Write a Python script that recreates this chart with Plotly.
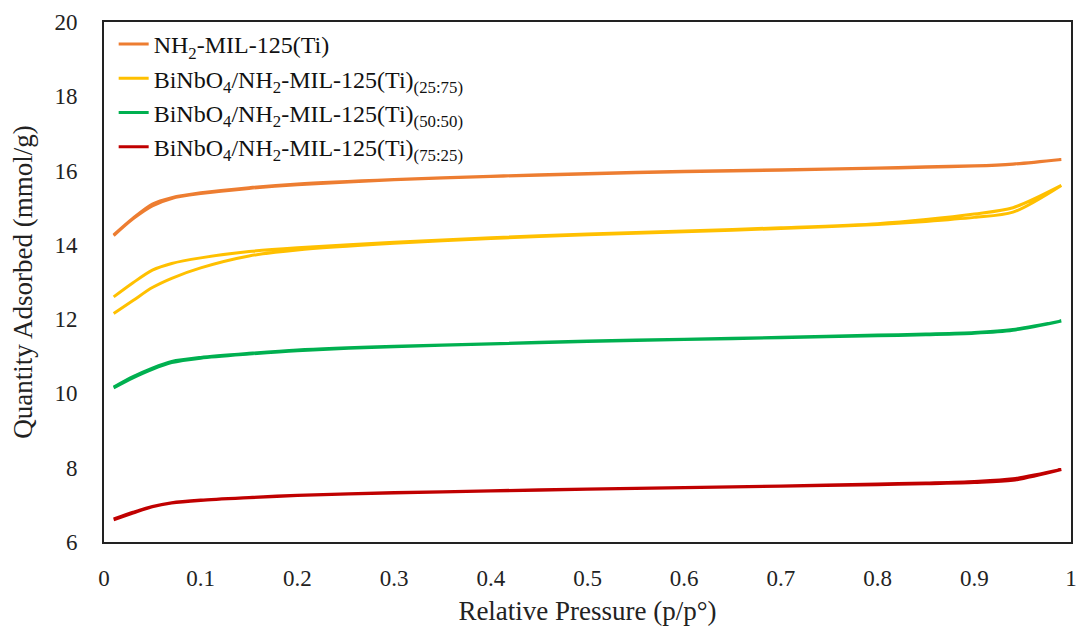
import plotly.graph_objects as go

# Relative pressure points
p_ads = [0.01, 0.03, 0.05, 0.07, 0.1, 0.15, 0.2, 0.3, 0.4, 0.5, 0.6, 0.7, 0.8, 0.85, 0.9, 0.94, 0.99]
p_des = [0.99, 0.94, 0.9, 0.85, 0.8, 0.7, 0.6, 0.5, 0.4, 0.3, 0.2, 0.15, 0.1, 0.07, 0.05, 0.03, 0.01]

names = [
    "NH<sub>2</sub>-MIL-125(Ti)",
    "BiNbO<sub>4</sub>/NH<sub>2</sub>-MIL-125(Ti)<sub>(25:75)</sub>",
    "BiNbO<sub>4</sub>/NH<sub>2</sub>-MIL-125(Ti)<sub>(50:50)</sub>",
    "BiNbO<sub>4</sub>/NH<sub>2</sub>-MIL-125(Ti)<sub>(75:25)</sub>",
]
colors = ["#ED7D31", "#FFC000", "#00B050", "#C00000"]

nh2_ads = [14.25, 14.7, 15.05, 15.25, 15.38, 15.52, 15.62, 15.75, 15.84, 15.91, 15.97, 16.01, 16.06, 16.09, 16.12, 16.17, 16.3]
nh2_des = [16.3, 16.18, 16.13, 16.1, 16.07, 16.02, 15.98, 15.92, 15.85, 15.76, 15.64, 15.54, 15.4, 15.27, 15.1, 14.72, 14.27]

b25_ads = [12.15, 12.5, 12.85, 13.1, 13.38, 13.7, 13.86, 14.04, 14.17, 14.27, 14.35, 14.44, 14.55, 14.63, 14.74, 14.88, 15.6]
b25_des = [15.6, 15.0, 14.83, 14.68, 14.57, 14.46, 14.37, 14.29, 14.19, 14.07, 13.92, 13.82, 13.65, 13.5, 13.32, 12.98, 12.6]

b50_ads = [10.15, 10.42, 10.65, 10.83, 10.95, 11.06, 11.15, 11.26, 11.33, 11.4, 11.45, 11.5, 11.55, 11.58, 11.62, 11.7, 11.95]
b50_des = [11.95, 11.72, 11.64, 11.6, 11.57, 11.51, 11.46, 11.41, 11.34, 11.27, 11.17, 11.08, 10.97, 10.86, 10.68, 10.45, 10.17]

b75_ads = [6.6, 6.78, 6.95, 7.05, 7.12, 7.19, 7.25, 7.32, 7.37, 7.42, 7.46, 7.5, 7.54, 7.57, 7.6, 7.66, 7.95]
b75_des = [7.95, 7.7, 7.63, 7.59, 7.56, 7.51, 7.47, 7.43, 7.38, 7.33, 7.26, 7.2, 7.13, 7.06, 6.96, 6.8, 6.62]

series = [(nh2_ads, nh2_des), (b25_ads, b25_des), (b50_ads, b50_des), (b75_ads, b75_des)]

fig = go.Figure()
for name, color, (ads, des) in zip(names, colors, series):
    fig.add_trace(go.Scatter(
        x=p_ads + p_des, y=ads + des, mode="lines", name=name,
        line=dict(color=color, width=3, shape="spline", smoothing=0.8),
    ))

font_family = "'Liberation Serif', 'DejaVu Serif', serif"
fig.update_layout(
    width=1083, height=630,
    margin=dict(l=104, r=6, t=22, b=88),
    paper_bgcolor="white", plot_bgcolor="white",
    font=dict(family=font_family, color="#222", size=22),
    showlegend=True,
    legend=dict(x=0.01, y=1.0, xanchor="left", yanchor="top",
                font=dict(family=font_family, size=24, color="#111"),
                bgcolor="rgba(0,0,0,0)", itemwidth=30, tracegroupgap=8),
    xaxis=dict(range=[0, 1], dtick=0.1, tick0=0, showgrid=False, zeroline=False,
               showline=True, mirror=True, linecolor="#222", linewidth=2,
               ticks="", ticklabelstandoff=14,
               tickfont=dict(family=font_family, size=23, color="#222"),
               title=dict(text="Relative Pressure (p/p°)",
                          font=dict(family=font_family, size=27, color="#222"), standoff=12)),
    yaxis=dict(range=[6, 20], dtick=2, showgrid=False, zeroline=False,
               showline=True, mirror=True, linecolor="#222", linewidth=2,
               ticks="", ticklabelstandoff=20,
               tickfont=dict(family=font_family, size=23, color="#222"),
               title=dict(text="Quantity Adsorbed (mmol/g)",
                          font=dict(family=font_family, size=27, color="#222"), standoff=14)),
)

fig.write_html("out.html")
